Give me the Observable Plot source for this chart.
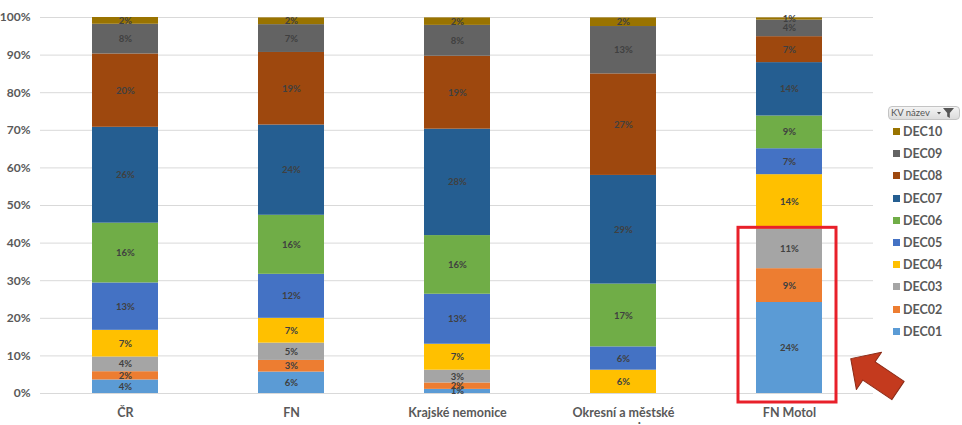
<!DOCTYPE html>
<html><head><meta charset="utf-8">
<script src="https://cdn.jsdelivr.net/npm/d3@7"></script>
<script src="https://cdn.jsdelivr.net/npm/@observablehq/plot@0.6"></script>
<style>
body{margin:0;background:#fff}
#wrap{position:relative;width:962px;height:425px;overflow:hidden;font-family:Lato,"Open Sans",sans-serif}
#legend{position:absolute;left:888px;top:106px;font-family:Lato,sans-serif}
#legend .hdr{width:68px;height:12px;border:1px solid #c4c4c4;border-radius:4px;background:linear-gradient(#f4f4f4,#dcdcdc);font-size:9.5px;color:#555;line-height:12px;padding-left:2px;box-sizing:content-box;position:relative}
#legend .hdr svg{position:absolute;right:3px;top:0}
#legend .item{position:absolute;left:5px;height:14px;font-size:12.5px;font-weight:700;color:#595959;white-space:nowrap}
#legend .sw{display:inline-block;width:7px;height:7px;margin-right:3px;vertical-align:1px}
</style>
</head><body><div id="wrap"></div>
<script>
const categories = ["ČR", "FN", "Krajské nemonice", "Okresní a městské\nnemocnice", "FN Motol"];
const series = ["DEC01","DEC02","DEC03","DEC04","DEC05","DEC06","DEC07","DEC08","DEC09","DEC10"];
const colors = ["#5B9BD5","#ED7D31","#A5A5A5","#FFC000","#4472C4","#70AD47","#255E91","#9E480E","#636363","#997300"];
// values in %, DEC01..DEC10
const valCR      = [3.6, 2.2, 3.9, 7.1, 12.6, 15.9, 25.5, 19.5, 7.9, 1.8];
const valFN      = [5.7, 3.1, 4.6, 6.6, 11.7, 15.7, 24.0, 19.3, 7.4, 1.8];
const valKraj    = [1.1, 1.7, 3.4, 6.9, 13.3, 15.6, 28.3, 19.4, 8.2, 2.0];
const valOkres   = [0, 0, 0, 6.2, 6.2, 16.7, 28.9, 27.0, 12.6, 2.3];
const valMotol   = [24.2, 9.0, 10.6, 14.4, 6.9, 8.7, 14.2, 6.9, 4.4, 0.6];
const yTicks = [0,10,20,30,40,50,60,70,80,90,100];
const highlightCategory = "FN Motol";
const highlightSeries = ["DEC01","DEC02","DEC03"];

const allVals = [valCR, valFN, valKraj, valOkres, valMotol];
const data = [];
categories.forEach((c, ci) => series.forEach((s, si) => data.push({cat: c, dec: s, value: allVals[ci][si]})));

const hlTop = d3.sum(data.filter(d => d.cat === highlightCategory && highlightSeries.includes(d.dec)), d => d.value);

const arrowShape = {
  draw(ctx, l) {
    const sw = 11, hw = 22.5, hl = 22;
    ctx.moveTo(-sw, 0);
    ctx.lineTo(-sw, -(l - hl));
    ctx.lineTo(-hw, -(l - hl));
    ctx.lineTo(0, -l);
    ctx.lineTo(hw, -(l - hl));
    ctx.lineTo(sw, -(l - hl));
    ctx.lineTo(sw, 0);
    ctx.closePath();
  }
};

const chart = Plot.plot({
  width: 962, height: 425,
  marginLeft: 40, marginRight: 89, marginTop: 17, marginBottom: 32,
  style: {fontFamily: "Lato, sans-serif", color: "#595959", background: "#fff"},
  x: {domain: categories, paddingInner: 0.604, paddingOuter: 0.302, label: null},
  y: {domain: [0, 100], label: null},
  color: {domain: series, range: colors},
  marks: [
    Plot.gridY(yTicks, {stroke: "#d9d9d9", strokeOpacity: 1, strokeWidth: 1}),
    Plot.axisY(yTicks, {tickSize: 0, tickPadding: 10, tickFormat: d => d + "%", fontSize: 12, fontWeight: 700, fill: "#595959", label: null}),
    Plot.axisX({tickSize: 0, tickPadding: 12, fontSize: 12.5, fontWeight: 700, fill: "#595959", label: null, lineHeight: 1.25}),
    Plot.barY(data, {x: "cat", y: "value", fill: "dec", order: series}),
    Plot.text(data, Plot.stackY({
      x: "cat", y: "value", z: "dec", order: series,
      filter: d => d.value > 0,
      text: d => Math.round(d.value) + "%",
      fill: "#404040", fontSize: 9.5, fontWeight: 700
    })),
    Plot.barY([{cat: highlightCategory, top: hlTop}], {
      x: "cat", y1: 0, y2: "top", fill: "none", stroke: "#E8202A", strokeWidth: 3,
      insetLeft: -18, insetRight: -14, insetBottom: -9, insetTop: -1
    }),
    Plot.vector([{cat: highlightCategory, v: 0}], {
      x: "cat", y: "v", dx: 108.5, dy: -3, length: 57, rotate: 304, anchor: "start",
      shape: arrowShape, fill: "#C43A1E", stroke: "#8B2A16", strokeWidth: 1
    })
  ]
});

const wrap = document.getElementById("wrap");
wrap.appendChild(chart);

// legend (HTML), from series/colors arrays, top item = last series
const legend = document.createElement("div");
legend.id = "legend";
legend.innerHTML = `<div class="hdr">KV název<svg width="22" height="12" viewBox="0 0 22 12"><path d="M3 5h4l-2 2.5z" fill="#555"/><path d="M9 1h11l-4.2 5v5l-2.6-1.5V6z" fill="#555"/></svg></div>`;
const rev = series.map((s, i) => ({s, c: colors[i]})).reverse();
rev.forEach((d, i) => {
  const it = document.createElement("div");
  it.className = "item";
  it.style.top = (18 + i * 22.2) + "px";
  it.innerHTML = `<span class="sw" style="background:${d.c}"></span>${d.s}`;
  legend.appendChild(it);
});
wrap.appendChild(legend);
</script>
</body></html>
